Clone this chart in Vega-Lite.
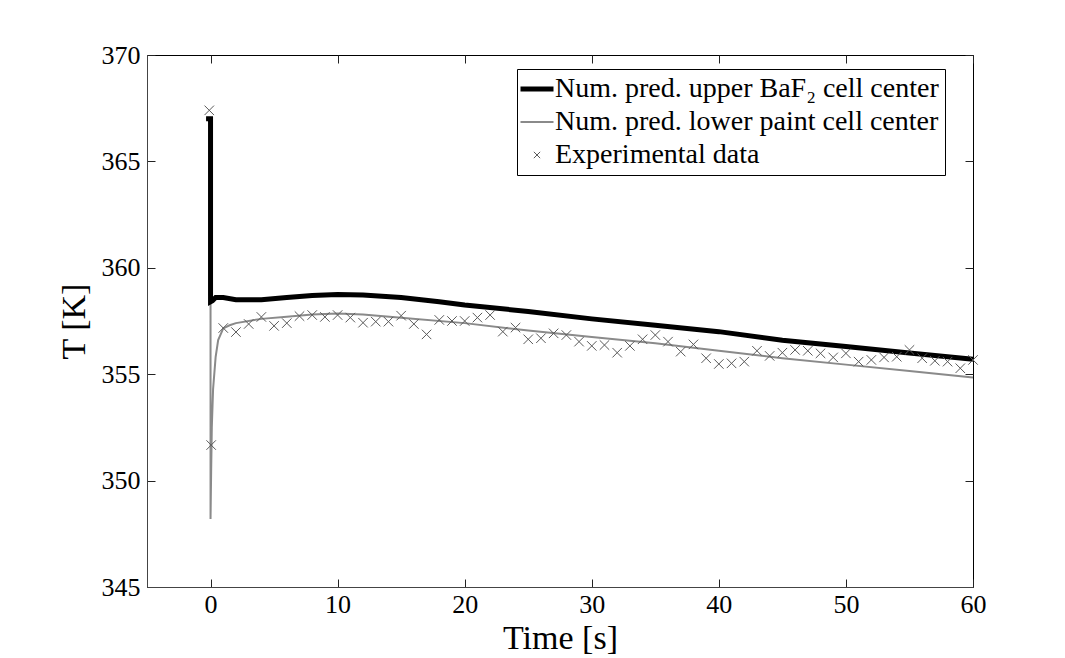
{
  "$schema": "https://vega.github.io/schema/vega-lite/v6.json",
  "width": 826,
  "height": 532,
  "autosize": "none",
  "padding": {"left": 147, "top": 55, "right": 92, "bottom": 71},
  "background": "white",
  "config": {
    "font": "Liberation Serif",
    "view": {"stroke": "black", "strokeWidth": 1},
    "axis": {"labelFont": "Liberation Serif", "titleFont": "Liberation Serif", "labelColor": "black", "titleColor": "black", "titleFontWeight": "normal", "domainColor": "#444", "ticks": false, "grid": true, "gridColor": "#222", "gridOpacity": 1, "gridWidth": 1}
  },
  "data": {"values": [
      {"s": "lower", "i": 0, "t": -0.35, "T": 367.0}, {"s": "lower", "i": 1, "t": 0, "T": 367.0}, {"s": "lower", "i": 2, "t": 0, "T": 348.2},
      {"s": "lower", "i": 3, "t": 0.05, "T": 350.5}, {"s": "lower", "i": 4, "t": 0.1, "T": 352.5}, {"s": "lower", "i": 5, "t": 0.2, "T": 354.3},
      {"s": "lower", "i": 6, "t": 0.4, "T": 355.8}, {"s": "lower", "i": 7, "t": 0.6, "T": 356.6}, {"s": "lower", "i": 8, "t": 1, "T": 357.15},
      {"s": "lower", "i": 9, "t": 1.5, "T": 357.3}, {"s": "lower", "i": 10, "t": 2, "T": 357.4}, {"s": "lower", "i": 11, "t": 4, "T": 357.6},
      {"s": "lower", "i": 12, "t": 6, "T": 357.7}, {"s": "lower", "i": 13, "t": 8, "T": 357.8}, {"s": "lower", "i": 14, "t": 10, "T": 357.85},
      {"s": "lower", "i": 15, "t": 12, "T": 357.8}, {"s": "lower", "i": 16, "t": 15, "T": 357.65}, {"s": "lower", "i": 17, "t": 20, "T": 357.4},
      {"s": "lower", "i": 18, "t": 25, "T": 357.05}, {"s": "lower", "i": 19, "t": 30, "T": 356.75}, {"s": "lower", "i": 20, "t": 35, "T": 356.45},
      {"s": "lower", "i": 21, "t": 40, "T": 356.1}, {"s": "lower", "i": 22, "t": 45, "T": 355.75}, {"s": "lower", "i": 23, "t": 50, "T": 355.45},
      {"s": "lower", "i": 24, "t": 55, "T": 355.15}, {"s": "lower", "i": 25, "t": 60, "T": 354.85},
      {"s": "upper", "i": 0, "t": -0.35, "T": 367.0}, {"s": "upper", "i": 1, "t": 0, "T": 367.0}, {"s": "upper", "i": 2, "t": 0, "T": 358.4},
      {"s": "upper", "i": 3, "t": 0.15, "T": 358.45}, {"s": "upper", "i": 4, "t": 0.4, "T": 358.6}, {"s": "upper", "i": 5, "t": 1, "T": 358.6},
      {"s": "upper", "i": 6, "t": 2, "T": 358.5}, {"s": "upper", "i": 7, "t": 3, "T": 358.5}, {"s": "upper", "i": 8, "t": 4, "T": 358.5},
      {"s": "upper", "i": 9, "t": 6, "T": 358.6}, {"s": "upper", "i": 10, "t": 8, "T": 358.7}, {"s": "upper", "i": 11, "t": 10, "T": 358.75},
      {"s": "upper", "i": 12, "t": 12, "T": 358.72}, {"s": "upper", "i": 13, "t": 15, "T": 358.6}, {"s": "upper", "i": 14, "t": 18, "T": 358.4},
      {"s": "upper", "i": 15, "t": 20, "T": 358.25}, {"s": "upper", "i": 16, "t": 25, "T": 357.95}, {"s": "upper", "i": 17, "t": 30, "T": 357.6},
      {"s": "upper", "i": 18, "t": 35, "T": 357.3}, {"s": "upper", "i": 19, "t": 40, "T": 357.0}, {"s": "upper", "i": 20, "t": 45, "T": 356.6},
      {"s": "upper", "i": 21, "t": 50, "T": 356.3}, {"s": "upper", "i": 22, "t": 55, "T": 356.0}, {"s": "upper", "i": 23, "t": 60, "T": 355.7},
      {"s": "exp", "i": 0, "t": -0.1, "T": 367.4}, {"s": "exp", "i": 1, "t": 0.05, "T": 351.67}, {"s": "exp", "i": 2, "t": 1, "T": 357.17}, {"s": "exp", "i": 3, "t": 2, "T": 356.98},
      {"s": "exp", "i": 4, "t": 3, "T": 357.36}, {"s": "exp", "i": 5, "t": 4, "T": 357.69}, {"s": "exp", "i": 6, "t": 5, "T": 357.27}, {"s": "exp", "i": 7, "t": 6, "T": 357.4},
      {"s": "exp", "i": 8, "t": 7, "T": 357.73}, {"s": "exp", "i": 9, "t": 8, "T": 357.78}, {"s": "exp", "i": 10, "t": 9, "T": 357.69}, {"s": "exp", "i": 11, "t": 10, "T": 357.78},
      {"s": "exp", "i": 12, "t": 11, "T": 357.66}, {"s": "exp", "i": 13, "t": 12, "T": 357.42}, {"s": "exp", "i": 14, "t": 13, "T": 357.47}, {"s": "exp", "i": 15, "t": 14, "T": 357.47},
      {"s": "exp", "i": 16, "t": 15, "T": 357.75}, {"s": "exp", "i": 17, "t": 16, "T": 357.36}, {"s": "exp", "i": 18, "t": 17, "T": 356.87}, {"s": "exp", "i": 19, "t": 18, "T": 357.55},
      {"s": "exp", "i": 20, "t": 19, "T": 357.5}, {"s": "exp", "i": 21, "t": 20, "T": 357.5}, {"s": "exp", "i": 22, "t": 21, "T": 357.66}, {"s": "exp", "i": 23, "t": 22, "T": 357.78},
      {"s": "exp", "i": 24, "t": 23, "T": 357.0}, {"s": "exp", "i": 25, "t": 24, "T": 357.19}, {"s": "exp", "i": 26, "t": 25, "T": 356.64}, {"s": "exp", "i": 27, "t": 26, "T": 356.69},
      {"s": "exp", "i": 28, "t": 27, "T": 356.92}, {"s": "exp", "i": 29, "t": 28, "T": 356.84}, {"s": "exp", "i": 30, "t": 29, "T": 356.53}, {"s": "exp", "i": 31, "t": 30, "T": 356.33},
      {"s": "exp", "i": 32, "t": 31, "T": 356.37}, {"s": "exp", "i": 33, "t": 32, "T": 356.01}, {"s": "exp", "i": 34, "t": 33, "T": 356.33}, {"s": "exp", "i": 35, "t": 34, "T": 356.64},
      {"s": "exp", "i": 36, "t": 35, "T": 356.84}, {"s": "exp", "i": 37, "t": 36, "T": 356.53}, {"s": "exp", "i": 38, "t": 37, "T": 356.06}, {"s": "exp", "i": 39, "t": 38, "T": 356.4},
      {"s": "exp", "i": 40, "t": 39, "T": 355.75}, {"s": "exp", "i": 41, "t": 40, "T": 355.48}, {"s": "exp", "i": 42, "t": 41, "T": 355.51}, {"s": "exp", "i": 43, "t": 42, "T": 355.59},
      {"s": "exp", "i": 44, "t": 43, "T": 356.1}, {"s": "exp", "i": 45, "t": 44, "T": 355.86}, {"s": "exp", "i": 46, "t": 45, "T": 356.01}, {"s": "exp", "i": 47, "t": 46, "T": 356.14},
      {"s": "exp", "i": 48, "t": 47, "T": 356.1}, {"s": "exp", "i": 49, "t": 48, "T": 355.98}, {"s": "exp", "i": 50, "t": 49, "T": 355.79}, {"s": "exp", "i": 51, "t": 50, "T": 355.98},
      {"s": "exp", "i": 52, "t": 51, "T": 355.59}, {"s": "exp", "i": 53, "t": 52, "T": 355.67}, {"s": "exp", "i": 54, "t": 53, "T": 355.79}, {"s": "exp", "i": 55, "t": 54, "T": 355.82},
      {"s": "exp", "i": 56, "t": 55, "T": 356.14}, {"s": "exp", "i": 57, "t": 56, "T": 355.75}, {"s": "exp", "i": 58, "t": 57, "T": 355.63}, {"s": "exp", "i": 59, "t": 58, "T": 355.59},
      {"s": "exp", "i": 60, "t": 59, "T": 355.28}, {"s": "exp", "i": 61, "t": 60, "T": 355.67}
  ]},
  "encoding": {
    "x": {"field": "t", "type": "quantitative", "scale": {"domain": [-5, 60], "nice": false, "zero": false},
      "axis": {"orient": "bottom", "values": [0, 10, 20, 30, 40, 50, 60], "title": "Time [s]", "titleFontSize": 34, "titlePadding": 4, "labelFontSize": 26, "labelPadding": 4, "labelFlush": false, "gridDash": [8, 516]}},
    "y": {"field": "T", "type": "quantitative", "scale": {"domain": [345, 370], "nice": false, "zero": false},
      "axis": {"orient": "left", "values": [345, 350, 355, 360, 365, 370], "title": "T [K]", "titleFontSize": 34, "titlePadding": 10, "labelFontSize": 26, "labelPadding": 7, "labelFlush": false, "gridDash": [8, 810]}},
    "color": {"field": "s", "type": "nominal", "scale": {"domain": ["upper", "lower", "exp"], "range": ["#000000", "#8a8a8a", "#5a5a5a"]},
      "legend": {"title": null, "orient": "none", "legendX": 370, "legendY": 14, "strokeColor": "black", "fillColor": "white", "padding": 6, "cornerRadius": 0, "rowPadding": 5, "labelFont": "Liberation Serif", "labelFontSize": 28, "labelColor": "black", "labelLimit": 0, "labelOffset": 4, "symbolSize": 1089,
        "labelExpr": "datum.value == 'upper' ? 'Num. pred. upper BaF₂ cell center' : (datum.value == 'lower' ? 'Num. pred. lower paint cell center' : 'Experimental data')",
        "encode": {"symbols": {"update": {
          "strokeWidth": {"signal": "datum.value == 'upper' ? 5 : (datum.value == 'exp' ? 1 : 2)"},
          "size": {"signal": "datum.value == 'exp' ? 40 : 1089"}
        }}}}}
  },
  "layer": [
    {
      "transform": [{"filter": "datum.s == 'lower'"}],
      "mark": {"type": "line", "strokeWidth": 2},
      "encoding": {"order": {"field": "i", "type": "quantitative"}}
    },
    {
      "transform": [{"filter": "datum.s == 'upper'"}],
      "mark": {"type": "line", "strokeWidth": 5},
      "encoding": {"order": {"field": "i", "type": "quantitative"}}
    },
    {
      "transform": [{"filter": "datum.s == 'exp'"}],
      "mark": {"type": "point", "filled": false, "size": 90, "strokeWidth": 1, "opacity": 1},
      "encoding": {
        "shape": {"field": "s", "type": "nominal", "scale": {"domain": ["upper", "lower", "exp"], "range": ["stroke", "stroke", "M-1,-1L1,1M-1,1L1,-1"]}}
      }
    }
  ]
}
